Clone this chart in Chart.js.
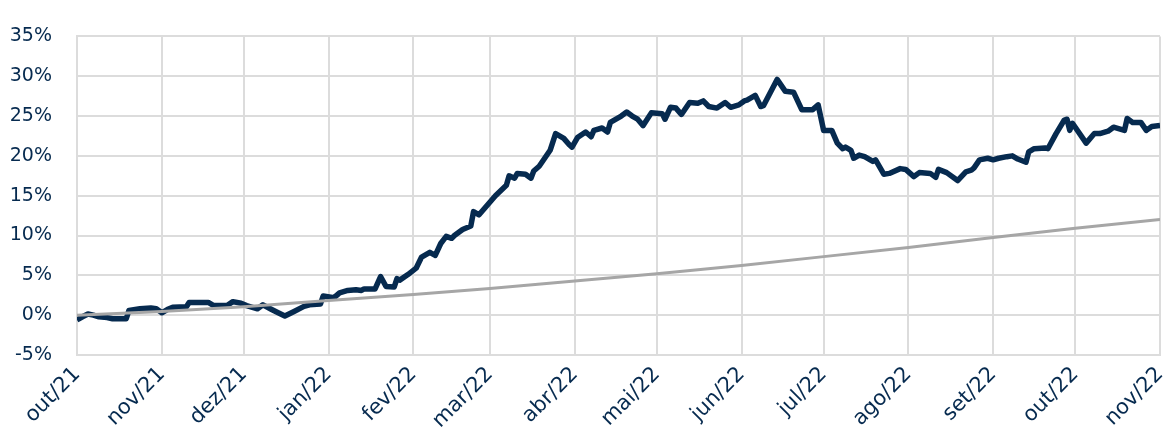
<!DOCTYPE html>
<html>
<head>
<meta charset="utf-8">
<script src="https://cdn.jsdelivr.net/npm/chart.js@4"></script>
<style>
  html, body { margin: 0; padding: 0; background: #fff; }
  #wrap { width: 1166px; height: 444px; position: relative; }
</style>
</head>
<body>
<div id="wrap"><canvas id="line-chart"></canvas></div>
<script>
// meses do eixo x (dias desde 01/out/21)
var meses = ['out/21', 'nov/21', 'dez/21', 'jan/22', 'fev/22', 'mar/22', 'abr/22', 'mai/22', 'jun/22', 'jul/22', 'ago/22', 'set/22', 'out/22', 'nov/22']
var diasMes = [0, 31, 61, 92, 123, 151, 182, 212, 243, 273, 304, 335, 365, 396]

// rentabilidade acumulada da carteira (%)
var diasCarteira = [0, 2, 4, 6, 8, 11, 13, 18, 19, 23, 27, 29, 31, 33, 35, 40, 41, 48, 50, 55, 57, 60, 62, 66, 68, 71, 73, 76, 79, 83, 85, 89, 90, 94, 96, 99, 102, 104, 105, 109, 111, 113, 116, 117, 118, 121, 124, 126, 129, 131, 133, 135, 137, 138, 141, 144, 145, 147, 153, 157, 158, 160, 161, 164, 166, 167, 169, 173, 175, 178, 180, 181, 183, 186, 188, 189, 192, 194, 195, 199, 201, 203, 205, 207, 210, 214, 215, 217, 219, 221, 224, 227, 229, 231, 234, 237, 239, 242, 244, 245, 248, 250, 251, 256, 259, 262, 265, 269, 271, 273, 276, 278, 280, 281, 283, 284, 286, 288, 291, 292, 295, 297, 301, 303, 306, 308, 312, 314, 315, 318, 322, 325, 327, 328, 330, 333, 335, 337, 340, 342, 344, 347, 348, 350, 354, 355, 358, 361, 362, 363, 364, 369, 372, 374, 377, 379, 383, 384, 386, 389, 391, 393, 396]
var carteira = [-0.6, -0.2, 0.15, 0.0, -0.2, -0.3, -0.45, -0.45, 0.6, 0.8, 0.9, 0.8, 0.3, 0.7, 1.0, 1.05, 1.6, 1.6, 1.2, 1.25, 1.7, 1.5, 1.2, 0.8, 1.3, 0.75, 0.4, -0.1, 0.4, 1.1, 1.3, 1.4, 2.4, 2.2, 2.8, 3.1, 3.2, 3.1, 3.3, 3.3, 4.85, 3.6, 3.55, 4.6, 4.4, 5.1, 5.9, 7.3, 7.9, 7.5, 9.0, 9.9, 9.65, 10.0, 10.75, 11.2, 13.0, 12.6, 15.0, 16.3, 17.5, 17.2, 17.8, 17.7, 17.2, 18.1, 18.7, 20.7, 22.8, 22.2, 21.4, 21.1, 22.3, 23.0, 22.4, 23.2, 23.5, 23.0, 24.2, 25.0, 25.5, 25.0, 24.6, 23.8, 25.4, 25.3, 24.6, 26.1, 26.0, 25.2, 26.7, 26.6, 26.9, 26.2, 26.0, 26.7, 26.1, 26.4, 26.9, 27.0, 27.6, 26.2, 26.3, 29.6, 28.1, 28.0, 25.8, 25.8, 26.4, 23.2, 23.2, 21.6, 20.9, 21.1, 20.7, 19.7, 20.1, 19.9, 19.3, 19.5, 17.7, 17.8, 18.4, 18.3, 17.4, 17.9, 17.8, 17.3, 18.3, 17.9, 16.9, 18.0, 18.2, 18.5, 19.5, 19.7, 19.5, 19.7, 19.9, 20.0, 19.6, 19.2, 20.5, 20.9, 21.0, 20.9, 22.8, 24.5, 24.6, 23.2, 24.1, 21.6, 22.8, 22.8, 23.1, 23.6, 23.2, 24.7, 24.2, 24.2, 23.2, 23.7, 23.8]

// benchmark (CDI acumulado, %) no inicio de cada mes
var cdi = [0, 0.45, 1.05, 1.85, 2.6, 3.35, 4.3, 5.2, 6.25, 7.35, 8.5, 9.75, 10.9, 12.0]

var navy = '#062a4f'
var gridColor = '#dcdcdc'

var ctx = document.getElementById('line-chart').getContext('2d')

new Chart(ctx, {
    type: 'line',
    data: {
        datasets: [
            {
                label: 'CDI',
                data: diasMes.map(function (d, i) { return { x: d, y: cdi[i] } }),
                borderColor: '#a6a6a6',
                borderWidth: 3,
                pointRadius: 0,
                tension: 0
            },
            {
                label: 'Carteira',
                data: diasCarteira.map(function (d, i) { return { x: d, y: carteira[i] } }),
                borderColor: navy,
                borderWidth: 5.5,
                borderJoinStyle: 'round',
                pointRadius: 0,
                tension: 0
            }
        ]
    },
    options: {
        responsive: true,
        maintainAspectRatio: false,
        animation: false,
        layout: { padding: { top: 27, right: 6, left: 0, bottom: 0 } },
        plugins: {
            legend: { display: false },
            tooltip: { enabled: false }
        },
        scales: {
            x: {
                type: 'linear',
                min: 0,
                max: 396,
                afterBuildTicks: function (scale) {
                    scale.ticks = diasMes.map(function (d) { return { value: d } })
                },
                afterFit: function (scale) {
                    scale.height = 89
                    scale.paddingLeft = 0
                    scale.paddingRight = 0 // labels giram pra esquerda, nao precisa de folga
                },
                grid: { color: gridColor, lineWidth: 2, drawTicks: false },
                border: { color: gridColor, width: 2 },
                ticks: {
                    autoSkip: false,
                    maxRotation: 45,
                    minRotation: 45,
                    padding: 7,
                    color: navy,
                    font: { family: 'DejaVu Sans', size: 21 },
                    callback: function (value, index) { return meses[index] }
                }
            },
            y: {
                min: -5,
                max: 35,
                afterFit: function (scale) { scale.width = 77 },
                grid: { color: gridColor, lineWidth: 2, drawTicks: false },
                border: { color: gridColor, width: 2 },
                ticks: {
                    stepSize: 5,
                    padding: 25,
                    color: navy,
                    font: { family: 'DejaVu Sans', size: 19 },
                    callback: function (value) { return value + '%' }
                }
            }
        }
    }
})
</script>
</body>
</html>
